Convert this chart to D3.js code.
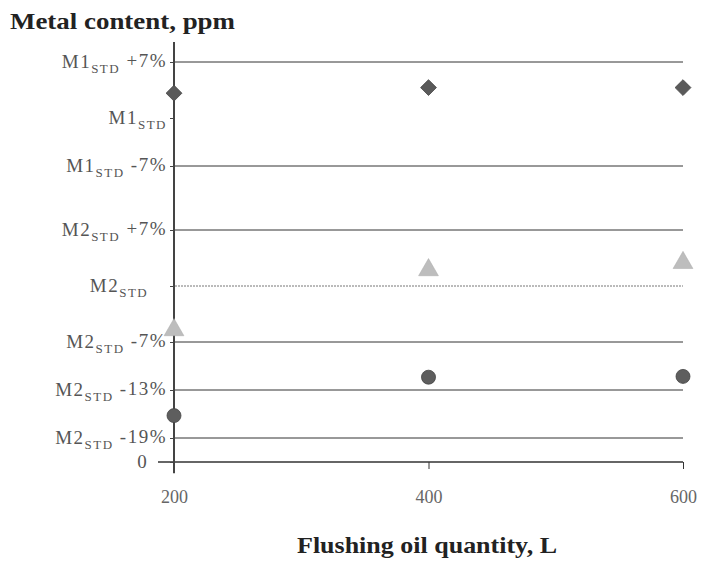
<!DOCTYPE html>
<html><head><meta charset="utf-8">
<script src="https://cdn.jsdelivr.net/npm/d3@7"></script>
<style>body{margin:0;background:#fff}svg{display:block}</style>
</head><body><svg id="c" width="708" height="562"></svg>
<script>
// ---- data ----
const xValues = [200, 400, 600];
// y in "percent-of-M2 position" units (M2STD = 100); axis is a composite reference scale
const m1Values = [124.1, 124.8, 124.8];   // diamonds
const m2Values = [94.5, 102.0, 102.9];    // triangles
const m3Values = [83.8, 88.6, 88.7];      // circles
const yTickValues = [128, 121, 115, 107, 100, 93, 87, 81, 78];
const yTickMain = ["M1", "M1", "M1", "M2", "M2", "M2", "M2", "M2", "0"];
const yTickSub = ["STD", "STD", "STD", "STD", "STD", "STD", "STD", "STD", ""];
const yTickSuffix = [" +7%", "", " -7%", " +7%", "   ", " -7%", " -13%", " -19%", "   "];
const gridValues = [128, 115, 107, 100, 93, 87, 81];
const xTickValues = [200, 400, 600];

const svg = d3.select("#c");
const x = d3.scaleLinear().domain([200, 600]).range([174, 683]);
const y = d3.scaleLinear().domain([100, 128]).range([286, 62]);
const serif = "'Liberation Serif','Times New Roman',serif";

// gridlines
svg.append("g").selectAll("line").data(gridValues).join("line")
  .attr("x1", 175).attr("x2", 683)
  .attr("y1", d => y(d)).attr("y2", d => y(d))
  .attr("stroke", d => d === 100 ? "#777" : "#333").attr("stroke-width", 1)
  .attr("stroke-dasharray", d => d === 100 ? "2,1" : null);

// x axis (at the "0" level)
const y0 = y(78);
const xAxis = d3.axisBottom(x).tickValues(xTickValues).tickSize(7).tickPadding(21).tickFormat(d3.format("d"));
const gx = svg.append("g").attr("transform", `translate(0,${y0})`).call(xAxis);
gx.select(".domain").attr("d", `M158,0H683`).attr("stroke", "#333").attr("stroke-width", 1.5);
gx.selectAll(".tick line").attr("stroke", "#333");
gx.selectAll(".tick text").attr("font-family", serif).attr("font-size", 18).attr("fill", "#666");

// y axis
const yAxis = d3.axisLeft(y).tickValues(yTickValues).tickSize(4).tickPadding(4).tickFormat("");
const gy = svg.append("g").attr("transform", "translate(174,0)").call(yAxis);
gy.select(".domain").attr("d", `M0,${y(130.5)}V${y(76.6)}`).attr("stroke", "#444").attr("stroke-width", 2);
gy.selectAll(".tick line").attr("stroke", "#444");
gy.selectAll(".tick").each(function (d, i) {
  const t = d3.select(this).append("text")
    .attr("x", -7).attr("y", 0).attr("dy", "0.3em")
    .attr("text-anchor", "end").style("white-space", "pre")
    .attr("font-family", serif).attr("font-size", 19).attr("letter-spacing", 1.5).attr("fill", "#555");
  t.append("tspan").text(yTickMain[i]);
  if (yTickSub[i]) t.append("tspan").attr("font-size", 13).attr("dy", "0.35em").text(yTickSub[i]);
  if (yTickSuffix[i]) t.append("tspan").attr("dy", yTickSub[i] ? "-0.3em" : 0).text(yTickSuffix[i]);
});

// markers
const sym = (type, size) => d3.symbol().type(type).size(size)();
svg.append("g").selectAll("path").data(xValues).join("path")
  .attr("d", sym(d3.symbolDiamond2, 160))
  .attr("transform", (d, i) => `translate(${x(d)},${y(m1Values[i])})`)
  .attr("fill", "#5a5a5a").attr("stroke", "#444").attr("stroke-width", 0.8);
svg.append("g").selectAll("path").data(xValues).join("path")
  .attr("d", sym(d3.symbolTriangle, 170))
  .attr("transform", (d, i) => `translate(${x(d)},${y(m2Values[i])})`)
  .attr("fill", "#bdbdbd").attr("stroke", "#aaa").attr("stroke-width", 0.5);
svg.append("g").selectAll("circle").data(xValues).join("circle")
  .attr("cx", d => x(d)).attr("cy", (d, i) => y(m3Values[i])).attr("r", 7)
  .attr("fill", "#5e5e5e").attr("stroke", "#444").attr("stroke-width", 0.8);

// titles
svg.append("text").attr("x", 10).attr("y", 29)
  .attr("font-family", serif).attr("font-weight", "bold").attr("font-size", 24).attr("fill", "#222")
  .attr("textLength", 225).attr("lengthAdjust", "spacingAndGlyphs")
  .text("Metal content, ppm");
svg.append("text").attr("x", 297).attr("y", 553)
  .attr("font-family", serif).attr("font-weight", "bold").attr("font-size", 24).attr("fill", "#222")
  .attr("textLength", 260).attr("lengthAdjust", "spacingAndGlyphs")
  .text("Flushing oil quantity, L");
</script></body></html>
